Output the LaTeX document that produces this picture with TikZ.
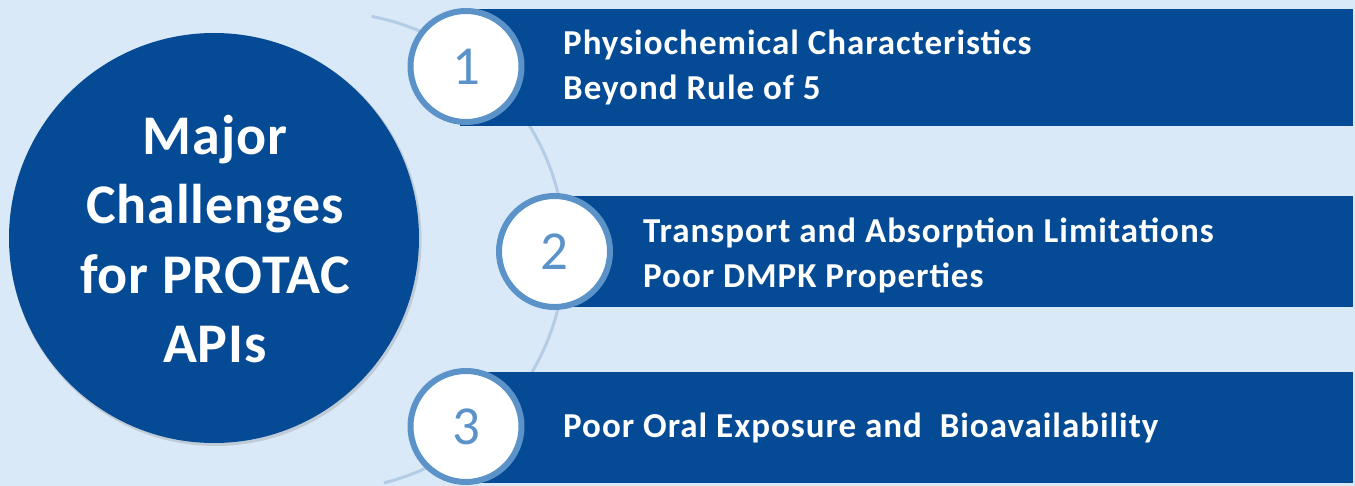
\documentclass[tikz,border=0pt]{standalone}
\usepackage{fontspec}
\setmainfont{Carlito}
\newfontfamily\barfont[LetterSpace=2.8]{Carlito}
\newfontfamily\bigfont[LetterSpace=1.5]{Carlito}
\definecolor{bg}{HTML}{DAE9F7}
\definecolor{dblue}{HTML}{054A94}
\definecolor{ringc}{HTML}{5B93C9}
\definecolor{arcline}{HTML}{B4CCE6}
\tikzset{
  bar/.style={fill=dblue, draw=none},
  numcircle/.style={circle, draw=ringc, line width=6pt, fill=white, minimum size=111pt, inner sep=0pt,
    text=ringc, font=\fontsize{55}{60}\selectfont},
  bartext/.style={anchor=base west, inner sep=0pt, text=white, font=\barfont\bfseries\fontsize{35}{40}\selectfont},
  bigcircle/.style={circle, fill=dblue, minimum size=410pt, inner sep=0pt},
  bigtext/.style={text=white, align=center, font=\bigfont\bfseries\fontsize{56}{69.5}\selectfont}
}
\begin{document}
\begin{tikzpicture}[x=1pt,y=-1pt]
\fill[bg] (0,0) rectangle (1355,486);
\useasboundingbox (0,0) rectangle (1355,486);
% arc
\coordinate (ac) at (326,251);
\draw[arcline, line width=3pt] (ac) ++(-79:239) arc[start angle=-79, end angle=76, radius=239];
% shadow and big circle
\fill[black, opacity=0.12] (215.5,240) circle[radius=206];
\node[bigcircle] (big) at (214,238) {};
\node[bigtext] (bigt) at (215,239) {Major\\Challenges\\for PROTAC\\APIs};
% bars
\fill[bar] (460,9) rectangle (1353,126);
\fill[bar] (555,196) rectangle (1353,307);
\fill[bar] (466,372) rectangle (1353,483);
% number circles
\node[numcircle] (n1) at (466,66.5) {1};
\node[numcircle] (n2) at (554.5,251.5) {2};
\node[numcircle] (n3) at (466,426.5) {3};
% texts
\node[bartext] (t1a) at (563,55) {Physiochemical Characteristics};
\node[bartext] (t1b) at (563,100) {Beyond Rule of 5};
\node[bartext] (t2a) at (643,243) {Transport and Absorption Limitations};
\node[bartext] (t2b) at (643,288) {Poor DMPK Properties};
\node[bartext] (t3) at (563,437) {Poor Oral Exposure and\ \ Bioavailability};
\end{tikzpicture}
\end{document}
